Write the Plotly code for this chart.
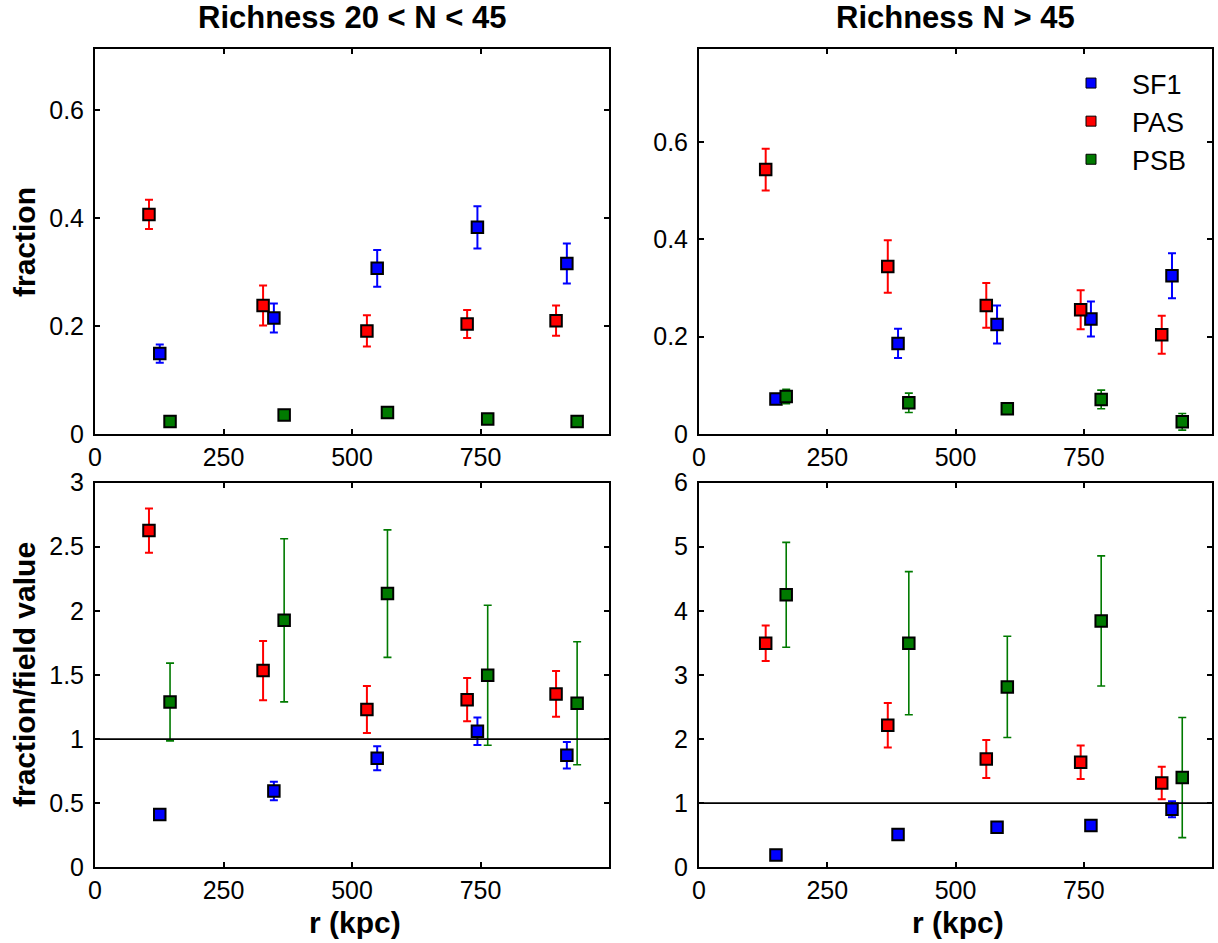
import plotly.graph_objects as go
from plotly.subplots import make_subplots

# ---------------- data ----------------
# Left column (Richness 20 < N < 45)
xl_sf1 = [126, 348, 549, 744, 918]
xl_pas = [105, 327, 529, 724, 897]
xl_psb = [146, 368, 569, 764, 938]
# Right column (Richness N > 45)
xr_sf1 = [150, 388, 581, 764, 922]
xr_pas = [130, 368, 560, 744, 902]
xr_psb = [170, 409, 601, 784, 942]

# fraction, 20<N<45
f1_sf1 = [0.149, 0.215, 0.307, 0.383, 0.316]
f1_sf1_e = [0.017, 0.027, 0.034, 0.039, 0.037]
f1_pas = [0.407, 0.238, 0.191, 0.204, 0.210]
f1_pas_e = [0.027, 0.037, 0.029, 0.026, 0.028]
f1_psb = [0.023, 0.035, 0.040, 0.028, 0.023]
f1_psb_e = [0.004, 0.005, 0.005, 0.004, 0.004]

# fraction, N>45
f2_sf1 = [0.072, 0.186, 0.225, 0.236, 0.325]
f2_sf1_e = [0.005, 0.030, 0.039, 0.036, 0.046]
f2_pas = [0.543, 0.344, 0.264, 0.255, 0.204]
f2_pas_e = [0.043, 0.054, 0.046, 0.040, 0.039]
f2_psb = [0.077, 0.064, 0.052, 0.071, 0.025]
f2_psb_e = [0.015, 0.020, 0.010, 0.019, 0.017]

# fraction/field value, 20<N<45
r1_sf1 = [0.411, 0.595, 0.850, 1.061, 0.873]
r1_sf1_e = [0.04, 0.072, 0.094, 0.107, 0.103]
r1_pas = [2.625, 1.534, 1.230, 1.307, 1.352]
r1_pas_e = [0.172, 0.231, 0.183, 0.168, 0.178]
r1_psb = [1.289, 1.926, 2.134, 1.497, 1.279]
r1_psb_e = [0.303, 0.636, 0.497, 0.546, 0.479]

# fraction/field value, N>45
r2_sf1 = [0.192, 0.510, 0.624, 0.650, 0.905]
r2_sf1_e = [0.02, 0.04, 0.07, 0.06, 0.125]
r2_pas = [3.494, 2.215, 1.690, 1.638, 1.315]
r2_pas_e = [0.276, 0.346, 0.296, 0.260, 0.252]
r2_psb = [4.248, 3.494, 2.813, 3.842, 1.399]
r2_psb_e = [0.818, 1.116, 0.790, 1.014, 0.936]

x_ticks = [0, 250, 500, 750]
y_ticks_top = [0, 0.2, 0.4, 0.6]
y_ticks_bl = [0, 0.5, 1, 1.5, 2, 2.5, 3]
y_ticks_br = [0, 1, 2, 3, 4, 5, 6]

series_names = ["SF1", "PAS", "PSB"]
colors = {"SF1": "#0000ff", "PAS": "#ff0000", "PSB": "#007a00"}
err_thick = {"SF1": 2, "PAS": 2, "PSB": 1.6}

FONT = "Liberation Sans, Arial, sans-serif"

fig = make_subplots(rows=2, cols=2)

panels = [
    (1, 1, [(xl_sf1, f1_sf1, f1_sf1_e), (xl_pas, f1_pas, f1_pas_e), (xl_psb, f1_psb, f1_psb_e)]),
    (1, 2, [(xr_sf1, f2_sf1, f2_sf1_e), (xr_pas, f2_pas, f2_pas_e), (xr_psb, f2_psb, f2_psb_e)]),
    (2, 1, [(xl_sf1, r1_sf1, r1_sf1_e), (xl_pas, r1_pas, r1_pas_e), (xl_psb, r1_psb, r1_psb_e)]),
    (2, 2, [(xr_sf1, r2_sf1, r2_sf1_e), (xr_pas, r2_pas, r2_pas_e), (xr_psb, r2_psb, r2_psb_e)]),
]

for row, col, data in panels:
    for name, (xs, ys, es) in zip(series_names, data):
        c = colors[name]
        fig.add_trace(go.Scatter(
            x=xs, y=ys, mode="markers", name=name, showlegend=False,
            marker=dict(symbol="square", size=11.5, color=c, line=dict(color="black", width=2)),
            error_y=dict(type="data", array=es, visible=True, color=c,
                         thickness=err_thick[name], width=4),
        ), row=row, col=col)

# legend-only traces (top-right panel)
for name in series_names:
    fig.add_trace(go.Scatter(
        x=[None], y=[None], mode="markers", name=name, showlegend=True,
        marker=dict(symbol="square", size=10, color=colors[name], line=dict(color="black", width=1)),
    ), row=1, col=2)

# reference lines at 1
fig.add_hline(y=1, line=dict(color="black", width=1.8), row=2, col=1)
fig.add_hline(y=1, line=dict(color="black", width=1.8), row=2, col=2)

W, H = 1218, 943
def dx(p):
    return p / W
def dy(p):
    return (H - p) / H

xl_dom = [dx(95), dx(609)]
xr_dom = [dx(699), dx(1212)]
yt_dom = [dy(434), dy(49.3)]
yb_dom = [dy(867.3), dy(482.5)]

axis_common = dict(
    showgrid=False, zeroline=False, showline=True, linecolor="black", linewidth=2,
    mirror="ticks", ticks="inside", ticklen=5, tickwidth=2, tickcolor="black",
    tickfont=dict(family=FONT, size=25, color="black"), automargin=False,
)

fig.update_layout(
    xaxis=dict(domain=xl_dom, range=[0, 1000], tickvals=x_ticks, **axis_common),
    xaxis2=dict(domain=xr_dom, range=[0, 1000], tickvals=x_ticks, **axis_common),
    xaxis3=dict(domain=xl_dom, range=[0, 1000], tickvals=x_ticks, **axis_common),
    xaxis4=dict(domain=xr_dom, range=[0, 1000], tickvals=x_ticks, **axis_common),
    yaxis=dict(domain=yt_dom, range=[0, 0.713], tickvals=y_ticks_top,
               ticktext=["0", "0.2", "0.4", "0.6"], ticklabelstandoff=4, **axis_common),
    yaxis2=dict(domain=yt_dom, range=[0, 0.79], tickvals=y_ticks_top,
                ticktext=["0", "0.2", "0.4", "0.6"], ticklabelstandoff=4, **axis_common),
    yaxis3=dict(domain=yb_dom, range=[0, 3], tickvals=y_ticks_bl,
                ticktext=["0", "0.5", "1", "1.5", "2", "2.5", "3"], ticklabelstandoff=4, **axis_common),
    yaxis4=dict(domain=yb_dom, range=[0, 6], tickvals=y_ticks_br,
                ticktext=["0", "1", "2", "3", "4", "5", "6"], ticklabelstandoff=4, **axis_common),
)

fig.update_layout(
    width=W, height=H,
    margin=dict(l=0, r=0, t=0, b=0),
    paper_bgcolor="white", plot_bgcolor="white",
    font=dict(family=FONT, color="black"),
    showlegend=True,
    legend=dict(
        x=dx(1050), y=dy(59), xanchor="left", yanchor="top",
        bgcolor="rgba(0,0,0,0)", borderwidth=0,
        font=dict(family=FONT, size=27, color="black"),
        itemwidth=72, tracegroupgap=0,
    ),
)

annotations = [
    dict(text="<b>Richness 20 < N < 45</b>", x=dx(352), y=dy(18), font_size=31),
    dict(text="<b>Richness N > 45</b>", x=dx(955), y=dy(18), font_size=31),
    dict(text="<b>fraction</b>", x=dx(24), y=dy(242), font_size=30, textangle=-90),
    dict(text="<b>fraction/field value</b>", x=dx(24), y=dy(675), font_size=30, textangle=-90),
    dict(text="<b>r (kpc)</b>", x=dx(355), y=dy(922), font_size=30),
    dict(text="<b>r (kpc)</b>", x=dx(958), y=dy(922), font_size=30),
]
for a in annotations:
    fs = a.pop("font_size")
    fig.add_annotation(xref="paper", yref="paper", xanchor="center", yanchor="middle",
                       showarrow=False, font=dict(family=FONT, size=fs, color="black"), **a)

fig.write_html("out.html")
